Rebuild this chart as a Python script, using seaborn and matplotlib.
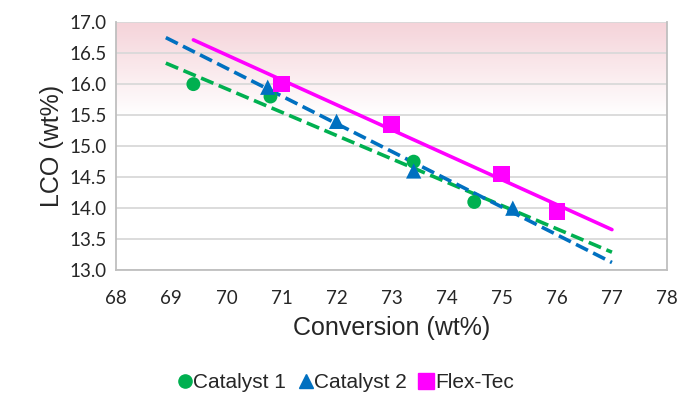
import numpy as np
import pandas as pd
import seaborn as sns
import matplotlib.pyplot as plt
from matplotlib.lines import Line2D
from matplotlib.colors import LinearSegmentedColormap

# data
cat1_conv = [69.4, 70.8, 73.4, 74.5]
cat1_lco = [16.0, 15.8, 14.75, 14.1]
cat2_conv = [70.75, 72.0, 73.4, 75.2]
cat2_lco = [15.95, 15.4, 14.6, 14.0]
flex_conv = [71.0, 73.0, 75.0, 76.0]
flex_lco = [16.0, 15.35, 14.55, 13.95]

# trendline ranges (Excel-style forecast)
cat1_range = [68.9, 77.0]
cat2_range = [68.9, 77.0]
flex_range = [69.4, 77.0]

series = [
    ("Catalyst 1", cat1_conv, cat1_lco, cat1_range, "#00B050", "o", 10, "--"),
    ("Catalyst 2", cat2_conv, cat2_lco, cat2_range, "#0070C0", "^", 11, "--"),
    ("Flex-Tec", flex_conv, flex_lco, flex_range, "#FF00FF", "s", 12, "-"),
]

sns.set_style("white")
plt.rcParams['font.family'] = ['Liberation Sans', 'DejaVu Sans']

fig = plt.figure(figsize=(6.88, 3.95), dpi=100)
ax = fig.add_axes([0.169, 0.316, 0.8005, 0.628])

# pink gradient at top of plot area
grad = np.linspace(0, 1, 256).reshape(-1, 1)
grad = np.clip((grad - 0.62) / 0.38, 0, 1)
cmap = LinearSegmentedColormap.from_list("pk", ["#FFFFFF", "#F5D3D9"])
ax.imshow(grad, cmap=cmap, aspect="auto", extent=[0, 1, 0, 1],
          transform=ax.transAxes, origin="lower", zorder=0)

for name, xs, ys, rng, col, mk, ms, ls in series:
    slope, icpt = np.polyfit(xs, ys, 1)
    fx = np.array(rng)
    fit = pd.DataFrame({"x": fx, "y": slope * fx + icpt})
    sns.lineplot(data=fit, x="x", y="y", ax=ax, color=col, lw=2.6,
                 linestyle=ls, zorder=3)
    df = pd.DataFrame({"x": xs, "y": ys})
    sns.scatterplot(data=df, x="x", y="y", ax=ax, color=col, marker=mk,
                    s=ms ** 2, edgecolor="none", zorder=4)

ax.set_xlim(68, 78)
ax.set_ylim(13, 17)
ax.set_xticks(np.arange(68, 79, 1))
ax.set_yticks(np.arange(13, 17.01, 0.5))
ax.set_yticklabels([f"{v:.1f}" for v in np.arange(13, 17.01, 0.5)])
ax.grid(axis="y", color="#D9D9D9", lw=1.3, zorder=1)
ax.set_axisbelow(True)
for s in ["left", "bottom", "right"]:
    ax.spines[s].set_color("#BFBFBF")
    ax.spines[s].set_linewidth(1.3)
ax.spines["top"].set_visible(False)
ax.tick_params(axis="x", direction="out", length=6, color="#BFBFBF", width=1.3,
               labelsize=13.5, pad=8)
ax.tick_params(axis="y", direction="out", length=4, color="#BFBFBF", width=1.3,
               labelsize=13.5, pad=3)
for lab in ax.get_xticklabels() + ax.get_yticklabels():
    lab.set_family(['Lato', 'DejaVu Sans'])

ax.set_xlabel("Conversion (wt%)", fontsize=18, labelpad=7)
ax.set_ylabel("LCO (wt%)", fontsize=18, labelpad=4)

handles = [Line2D([], [], color=c, marker=m, ls="none", markersize=ms * 0.95)
           for _, _, _, _, c, m, ms, _ in series]
fig.legend(handles, [s[0] for s in series], loc="lower center",
           bbox_to_anchor=(0.502, -0.04), ncol=3, frameon=False, fontsize=15,
           handlelength=0.7, handletextpad=0.05, columnspacing=0.6)

fig.savefig("out.png", dpi=100)
